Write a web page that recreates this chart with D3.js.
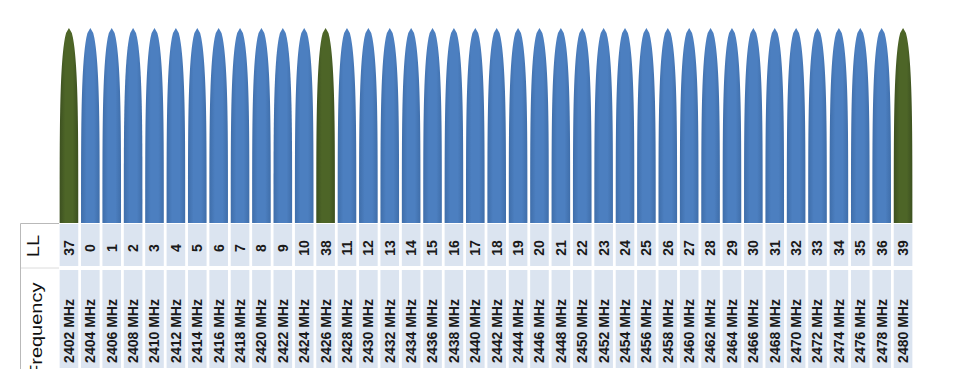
<!DOCTYPE html>
<html><head><meta charset="utf-8">
<script src="https://cdn.jsdelivr.net/npm/d3@7"></script>
<style>html,body{margin:0;padding:0;background:#fff;}svg{display:block;}</style>
</head><body>
<svg id="chart" width="966" height="390"></svg>
<script>
// ---- data ----
const frequencies = ["2402 MHz","2404 MHz","2406 MHz","2408 MHz","2410 MHz","2412 MHz","2414 MHz","2416 MHz","2418 MHz","2420 MHz",
  "2422 MHz","2424 MHz","2426 MHz","2428 MHz","2430 MHz","2432 MHz","2434 MHz","2436 MHz","2438 MHz","2440 MHz",
  "2442 MHz","2444 MHz","2446 MHz","2448 MHz","2450 MHz","2452 MHz","2454 MHz","2456 MHz","2458 MHz","2460 MHz",
  "2462 MHz","2464 MHz","2466 MHz","2468 MHz","2470 MHz","2472 MHz","2474 MHz","2476 MHz","2478 MHz","2480 MHz"];
const channels = ["37","0","1","2","3","4","5","6","7","8","9","10","38","11","12","13","14","15","16","17",
  "18","19","20","21","22","23","24","25","26","27","28","29","30","31","32","33","34","35","36","39"];
const channelType = ["adv","data","data","data","data","data","data","data","data","data","data","data","adv","data","data","data","data","data","data","data",
  "data","data","data","data","data","data","data","data","data","data","data","data","data","data","data","data","data","data","data","adv"];
const levels = [100,100,100,100,100,100,100,100,100,100,100,100,100,100,100,100,100,100,100,100,
  100,100,100,100,100,100,100,100,100,100,100,100,100,100,100,100,100,100,100,100];
const rowLabels = ["LL","Frequency"];

const data = frequencies.map((f,i)=>({freq:f, ch:channels[i], type:channelType[i], v:levels[i]}));

const svg = d3.select("#chart");
const x = d3.scaleBand().domain(frequencies).range([59, 913]).paddingInner(0.13).paddingOuter(0.03);
const y = d3.scaleLinear().domain([0, 100]).range([223, 28]);

// gradients
const defs = svg.append("defs");
function grad(id, edge, mid){
  const g = defs.append("linearGradient").attr("id", id).attr("x1","0%").attr("x2","100%").attr("y1","0%").attr("y2","0%");
  g.append("stop").attr("offset","0%").attr("stop-color", edge);
  g.append("stop").attr("offset","30%").attr("stop-color", mid);
  g.append("stop").attr("offset","70%").attr("stop-color", mid);
  g.append("stop").attr("offset","100%").attr("stop-color", edge);
}
grad("gBlue", "#3f6eaa", "#4c7fc0");
grad("gGreen", "#3c5020", "#4d6527");
defs.append("clipPath").attr("id","clipTable").append("rect").attr("x",0).attr("y",220).attr("width",966).attr("height",149);

// ---- table ----
const rows = [{key:"LL", y0:224, y1:266}, {key:"Frequency", y0:270, y1:368}];
const table = svg.append("g");
// header column
table.append("rect").attr("x",20).attr("y",223).attr("width",39).attr("height",146).attr("fill","#fff");
table.append("path").attr("d","M20.5,369 V223.5 H59").attr("fill","none").attr("stroke","#b9b9b9").attr("stroke-width",1);
table.append("line").attr("x1",21).attr("x2",59).attr("y1",268).attr("y2",268).attr("stroke","#dcdcdc");

rows.forEach(r=>{
  table.selectAll(null).data(data).enter().append("rect")
    .attr("x", d=>x(d.freq)).attr("y", r.y0)
    .attr("width", x.bandwidth()).attr("height", r.y1-r.y0)
    .attr("fill", "#dbe4f0");
});

// header labels
const hg = svg.append("g").attr("clip-path","url(#clipTable)");
hg.append("text").text(rowLabels[0])
  .attr("transform","translate(39,246) rotate(-90) scale(1,0.8)")
  .attr("text-anchor","middle")
  .attr("font-family","Liberation Sans, Arial, sans-serif").attr("font-size",20).attr("fill","#111");
hg.append("text").text(rowLabels[1])
  .attr("transform","translate(42,377) rotate(-90) scale(1,0.8)")
  .attr("text-anchor","start")
  .attr("font-family","Liberation Sans, Arial, sans-serif").attr("font-size",20).attr("fill","#111");

// cell labels
const cx = d=>x(d.freq)+x.bandwidth()/2;
svg.append("g").selectAll("text").data(data).enter().append("text")
  .text(d=>d.ch)
  .attr("transform", d=>`translate(${cx(d)},248) rotate(-90)`)
  .attr("dy","0.35em").attr("text-anchor","middle")
  .attr("font-family","Liberation Sans Narrow, Liberation Sans, Arial, sans-serif").attr("font-weight","bold")
  .attr("font-size",14).attr("fill","#1a1a1a");
svg.append("g").selectAll("text").data(data).enter().append("text")
  .text(d=>d.freq)
  .attr("transform", d=>`translate(${cx(d)},331) rotate(-90)`)
  .attr("dy","0.35em").attr("text-anchor","middle")
  .attr("font-family","Liberation Sans Narrow, Liberation Sans, Arial, sans-serif").attr("font-weight","bold")
  .attr("font-size",14).attr("fill","#1a1a1a");

// ---- bars (channel lobes) ----
const line = d3.line().curve(d3.curveLinear);
const steps = d3.range(0, 41);
function lobe(d){
  const c = cx(d), hw = x.bandwidth()/2;
  const base = y(0), top = y(d.v);
  const left = steps.map(s=>{const t=s/40; return [c - hw*Math.sqrt(1-Math.pow(t,4)), base - t*(base-top)];});
  const right = steps.slice().reverse().map(s=>{const t=s/40; return [c + hw*Math.sqrt(1-Math.pow(t,4)), base - t*(base-top)];});
  return line(left.concat(right)) + "Z";
}
svg.append("g").selectAll("path").data(data).enter().append("path")
  .attr("d", lobe)
  .attr("fill", d=> d.type==="adv" ? "url(#gGreen)" : "url(#gBlue)");
</script>
</body></html>
